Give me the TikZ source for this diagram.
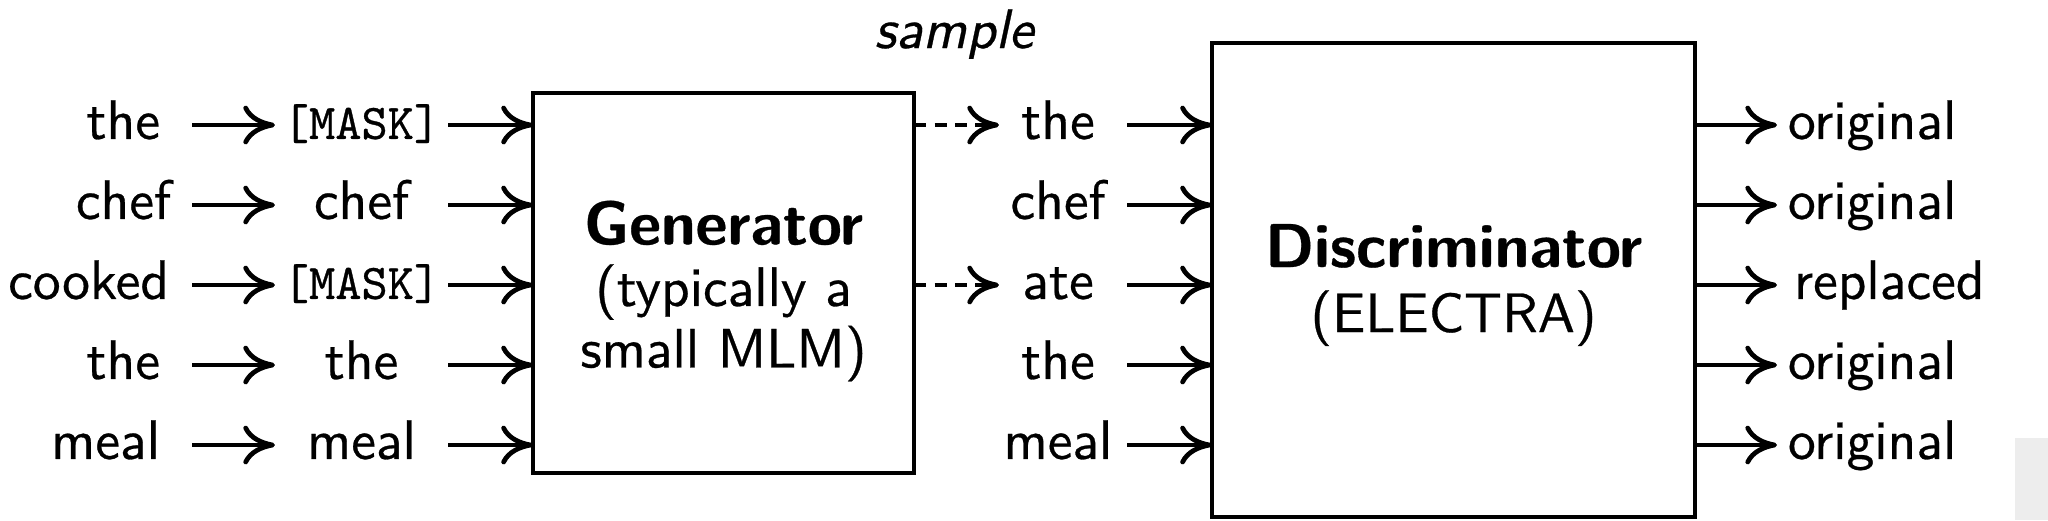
\documentclass[tikz,border=0pt]{standalone}
\usepackage{fontspec}
\setsansfont{lmsans10-regular.otf}[BoldFont=lmsans10-bold.otf,ItalicFont=lmsans10-oblique.otf,FakeBold=0.5]
\setmonofont{lmmono10-regular.otf}[FakeBold=0.6]
\usetikzlibrary{arrows.meta}
\begin{document}
\begin{tikzpicture}[x=0.01cm,y=-0.01cm,
  >={Computer Modern Rightarrow[length=9pt,width=11pt]},
  arr/.style={->,line width=1.35pt},
  darr/.style={->,line width=1.35pt,dash pattern=on 3.5pt off 2.3pt},
  word/.style={inner sep=0pt,outer sep=0pt,text height=11.85pt,text depth=3.95pt,font=\fontsize{15.8}{18}\selectfont\sffamily},
  tok/.style={word,font=\fontsize{14.2}{16}\selectfont\ttfamily},
  box/.style={draw,line width=1.1pt,inner sep=0pt,outer sep=0pt},
  boxtext/.style={inner sep=0pt,align=center,font=\fontsize{15.8}{17.5}\selectfont\sffamily}]
\useasboundingbox (0,0) rectangle (2048,520);
\fill[black!7] (2015,438) rectangle (2048,520);
% left column
\node[word,anchor=east,inner xsep=0.32cm] (a1) at (192,125) {the};
\node[word,anchor=east,inner xsep=0.21cm] (a2) at (192,205) {chef};
\node[word,anchor=east,inner xsep=0.23cm] (a3) at (192,285) {cooked};
\node[word,anchor=east,inner xsep=0.32cm] (a4) at (192,365) {the};
\node[word,anchor=east,inner xsep=0.32cm] (a5) at (192,445) {meal};
% middle column
\node[tok,minimum width=1.73cm] (b1) at (361.5,125) {[MASK]};
\node[word,minimum width=1.73cm] (b2) at (361.5,205) {chef};
\node[tok,minimum width=1.73cm] (b3) at (361.5,285) {[MASK]};
\node[word,minimum width=1.73cm] (b4) at (361.5,365) {the};
\node[word,minimum width=1.73cm] (b5) at (361.5,445) {meal};
% generator
\node[box,minimum width=3.81cm,minimum height=3.80cm] (gen) at (723.5,283) {};
\node[boxtext] (gent) at ([yshift=-0.08cm]gen.center)
  {{\bfseries\fontsize{17.6}{17.5}\selectfont Generator}\\(typically a\\small MLM)};
\node[font=\fontsize{15.8}{18}\selectfont\sffamily\itshape,anchor=base,inner sep=0pt] (smp) at (954,48) {sample};
% sampled column
\node[word,minimum width=1.18cm] (c1) at (1058,125) {the};
\node[word,minimum width=1.18cm] (c2) at (1058,205) {chef};
\node[word,minimum width=1.18cm] (c3) at (1058,285) {ate};
\node[word,minimum width=1.18cm] (c4) at (1058,365) {the};
\node[word,minimum width=1.18cm] (c5) at (1058,445) {meal};
% discriminator
\node[box,minimum width=4.83cm,minimum height=4.74cm] (disc) at (1453.5,280) {};
\node[boxtext,font=\fontsize{15.8}{18.5}\selectfont\sffamily] (disct) at ([yshift=-0.05cm]disc.center)
  {{\bfseries\fontsize{17.6}{18.5}\selectfont Discriminator}\\(ELECTRA)};
% outputs
\node[word,anchor=west,inner xsep=0.11cm] (o1) at (1777,125) {original};
\node[word,anchor=west,inner xsep=0.11cm] (o2) at (1777,205) {original};
\node[word,anchor=west,inner xsep=0.17cm] (o3) at (1777,285) {replaced};
\node[word,anchor=west,inner xsep=0.11cm] (o4) at (1777,365) {original};
\node[word,anchor=west,inner xsep=0.11cm] (o5) at (1777,445) {original};
% connectors
\foreach \i in {1,...,5} {
  \draw[arr] (a\i) -- (b\i);
  \draw[arr] (b\i) -- (gen.west |- b\i);
  \draw[arr] ([xshift=0.1cm]c\i.east) -- (disc.west |- c\i);
  \draw[arr] (disc.east |- o\i) -- (o\i);
}
\draw[darr] (gen.east |- c1) -- (c1);
\draw[darr] (gen.east |- c3) -- (c3);
\end{tikzpicture}
\end{document}
